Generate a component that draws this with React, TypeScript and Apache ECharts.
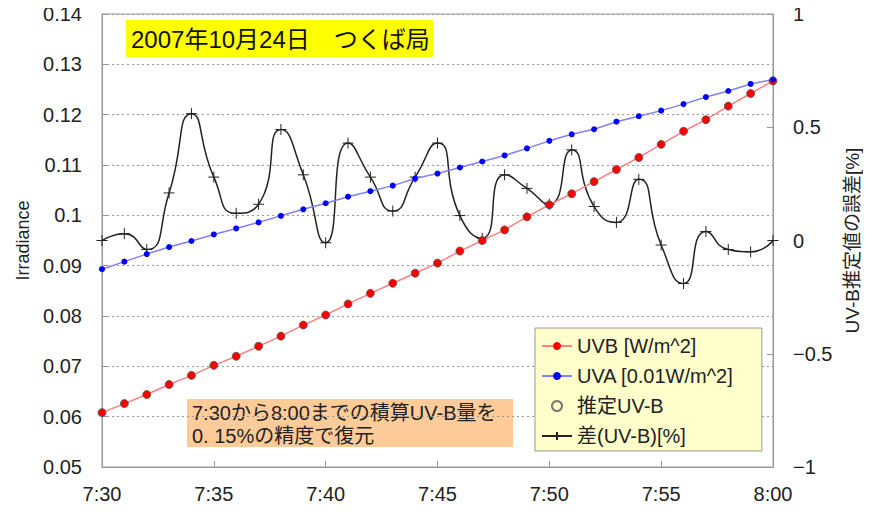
import React, { useEffect, useRef } from "react";
import * as echarts from "echarts";

const times = [
  "7:30", "7:31", "7:32", "7:33", "7:34", "7:35", "7:36", "7:37", "7:38", "7:39",
  "7:40", "7:41", "7:42", "7:43", "7:44", "7:45", "7:46", "7:47", "7:48", "7:49",
  "7:50", "7:51", "7:52", "7:53", "7:54", "7:55", "7:56", "7:57", "7:58", "7:59", "8:00",
];

const uvb = [
  0.0608, 0.0626, 0.0644, 0.0664, 0.0682, 0.0702, 0.072, 0.074, 0.076, 0.0782,
  0.0802, 0.0824, 0.0845, 0.0865, 0.0885, 0.0905, 0.0929, 0.095, 0.0971, 0.0997,
  0.1021, 0.1043, 0.1067, 0.1091, 0.1115, 0.1141, 0.1167, 0.119, 0.1217, 0.1242, 0.1267,
];

const uva = [
  0.0893, 0.0908, 0.0923, 0.0937, 0.0949, 0.0962, 0.0974, 0.0986, 0.0999, 0.1012,
  0.1024, 0.1037, 0.1048, 0.1059, 0.1073, 0.1083, 0.1095, 0.1107, 0.1119, 0.1133,
  0.1148, 0.1161, 0.1171, 0.1186, 0.1197, 0.1208, 0.1221, 0.1235, 0.1247, 0.1261, 0.127,
];

const estimatedUvb = [...uvb];

const diffPct = [
  0.0, 0.03, -0.04, 0.21, 0.56, 0.28, 0.12, 0.16, 0.49, 0.29,
  -0.01, 0.43, 0.28, 0.13, 0.28, 0.43, 0.11, 0.01, 0.29, 0.23,
  0.16, 0.4, 0.15, 0.08, 0.27, -0.02, -0.19, 0.04, -0.04, -0.05, 0.0,
];

const seriesNames = ["UVB [W/m^2]", "UVA [0.01W/m^2]", "推定UV-B", "差(UV-B)[%]"];
const titleText = "2007年10月24日　つくば局";
const noteLine1 = "7:30から8:00までの積算UV-B量を";
const noteLine2 = "0. 15%の精度で復元";

const FONT = "'Liberation Sans', Arial, 'Noto Sans CJK JP', sans-serif";
const JFONT = "'Noto Sans CJK JP', 'Liberation Sans', sans-serif";

export default function App() {
  const ref = useRef<HTMLDivElement>(null);
  useEffect(() => {
    if (!ref.current) return;
    const chart = echarts.init(ref.current, undefined, { renderer: "svg" });
    chart.setOption({
      animation: false,
      backgroundColor: "#ffffff",
      grid: {
        left: 102,
        right: 98,
        top: 14,
        bottom: 46,
        show: true,
        borderColor: "#999",
        borderWidth: 1,
        backgroundColor: "transparent",
      },
      legend: {
        orient: "vertical",
        left: 535,
        top: 328,
        padding: [8, 28, 5, 6],
        itemGap: 10,
        itemWidth: 30,
        itemHeight: 10,
        backgroundColor: "#FFFFCC",
        borderColor: "#999",
        borderWidth: 1,
        borderRadius: 0,
        textStyle: { fontSize: 20, color: "#222", fontFamily: FONT },
        data: seriesNames,
      },
      xAxis: {
        type: "category",
        data: times,
        boundaryGap: false,
        axisLine: { onZero: false, lineStyle: { color: "#999" } },
        axisTick: { inside: true, length: 6, interval: 4, lineStyle: { color: "#999" } },
        axisLabel: {
          interval: 4,
          margin: 17,
          fontSize: 20,
          color: "#222",
          fontFamily: FONT,
        },
        splitLine: { show: false },
      },
      yAxis: [
        {
          type: "value",
          min: 0.05,
          max: 0.14,
          interval: 0.01,
          name: "Irradiance",
          nameLocation: "middle",
          nameGap: 68,
          nameRotate: 90,
          nameTextStyle: { fontSize: 18, color: "#222", fontFamily: FONT },
          axisLine: { show: true, lineStyle: { color: "#999" } },
          axisTick: { show: true, inside: true, length: 6, lineStyle: { color: "#999" } },
          axisLabel: {
            margin: 20,
            fontSize: 20,
            color: "#222",
            fontFamily: FONT,
            formatter: (v: number) => String(Math.round(v * 100) / 100),
          },
          splitLine: { show: true, lineStyle: { color: "#999", type: [2, 3], width: 1 } },
        },
        {
          type: "value",
          min: -1,
          max: 1,
          interval: 0.5,
          position: "right",
          name: "UV-B推定値の誤差[%]",
          nameLocation: "middle",
          nameGap: 68,
          nameRotate: 90,
          nameTextStyle: { fontSize: 19, color: "#222", fontFamily: FONT },
          axisLine: { show: true, lineStyle: { color: "#999" } },
          axisTick: { show: true, inside: true, length: 6, lineStyle: { color: "#999" } },
          axisLabel: {
            margin: 20,
            fontSize: 20,
            color: "#222",
            fontFamily: FONT,
            formatter: (v: number) => String(v).replace("-", "\u2212"),
          },
          splitLine: { show: false },
        },
      ],
      series: [
        {
          name: seriesNames[0],
          type: "line",
          data: uvb,
          yAxisIndex: 0,
          symbol: "circle",
          symbolSize: 8,
          lineStyle: { color: "#FF8080", width: 1.5 },
          itemStyle: { color: "#FF0000" },
          z: 3,
        },
        {
          name: seriesNames[1],
          type: "line",
          data: uva,
          yAxisIndex: 0,
          symbol: "circle",
          symbolSize: 6,
          lineStyle: { color: "#8080FF", width: 1.5 },
          itemStyle: { color: "#0000FF" },
          z: 3,
        },
        {
          name: seriesNames[2],
          type: "scatter",
          data: estimatedUvb,
          yAxisIndex: 0,
          symbol: "circle",
          symbolSize: 8,
          itemStyle: { color: "transparent", borderColor: "#555", borderWidth: 1 },
          z: 4,
        },
        {
          name: seriesNames[3],
          type: "line",
          data: diffPct,
          yAxisIndex: 1,
          smooth: 0.6,
          symbol: "path://M0,5L10,5M5,0L5,10",
          symbolSize: 11,
          lineStyle: { color: "#222", width: 1.5 },
          itemStyle: { color: "#222", borderColor: "#222", borderWidth: 1 },
          z: 2,
        },
      ],
      graphic: [
        {
          type: "group",
          left: 126,
          top: 20,
          children: [
            {
              type: "rect",
              shape: { x: 0, y: 0, width: 307, height: 37 },
              style: { fill: "#FFFF00" },
            },
            {
              type: "text",
              x: 5,
              y: 19,
              style: {
                text: titleText,
                fontSize: 24,
                fontFamily: FONT,
                fill: "#111",
                verticalAlign: "middle",
              },
            },
          ],
        },
        {
          type: "group",
          left: 187,
          top: 399,
          children: [
            {
              type: "rect",
              shape: { x: 0, y: 0, width: 326, height: 48 },
              style: { fill: "#FFCC99" },
            },
            {
              type: "text",
              x: 5,
              y: 14,
              style: {
                text: noteLine1,
                fontSize: 20,
                fontFamily: FONT,
                fill: "#222",
                verticalAlign: "middle",
              },
            },
            {
              type: "text",
              x: 5,
              y: 37,
              style: {
                text: noteLine2,
                fontSize: 20,
                fontFamily: FONT,
                fill: "#222",
                verticalAlign: "middle",
              },
            },
          ],
        },
      ],
    });
    return () => chart.dispose();
  }, []);
  return <div ref={ref} style={{ width: 871, height: 513, margin: -8 }} />;
}
